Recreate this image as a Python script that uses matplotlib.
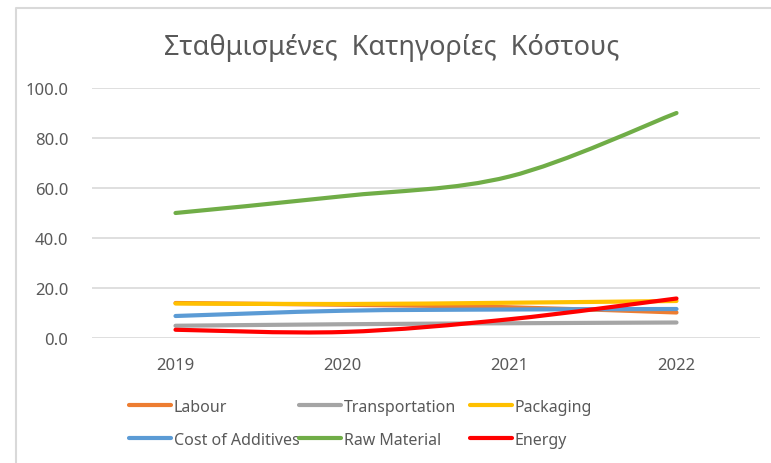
import matplotlib.pyplot as plt
from matplotlib.path import Path
from matplotlib.patches import PathPatch
from matplotlib.lines import Line2D
import numpy as np

plt.rcParams['font.family'] = ['Noto Sans', 'DejaVu Sans']

years = [2019, 2020, 2021, 2022]
labour = [14.0, 13.3, 12.3, 10.2]
transportation = [4.9, 5.5, 5.9, 6.2]
packaging = [13.8, 13.6, 14.1, 14.8]
additives = [8.8, 10.9, 11.4, 11.6]
raw_material = [50.0, 56.7, 64.6, 90.0]
energy = [3.3, 2.4, 7.5, 15.8]

series = [
    ("Labour", labour, "#ED7D31"),
    ("Transportation", transportation, "#A5A5A5"),
    ("Packaging", packaging, "#FFC000"),
    ("Cost of Additives", additives, "#5B9BD5"),
    ("Raw Material", raw_material, "#70AD47"),
    ("Energy", energy, "#FF0000"),
]
TXT = "#595959"


def smooth_path(x, y):
    # excel-like smoothed line: cubic bezier through the points
    p = np.column_stack([x, y]).astype(float)
    n = len(p)
    verts = [p[0]]
    codes = [Path.MOVETO]
    for i in range(n - 1):
        prev = p[i - 1] if i > 0 else p[i]
        nxt = p[i + 2] if i + 2 < n else p[i + 1]
        c1 = p[i] + (p[i + 1] - prev) / 6
        c2 = p[i + 1] - (nxt - p[i]) / 6
        verts += [c1, c2, p[i + 1]]
        codes += [Path.CURVE4] * 3
    return Path(verts, codes)


fig = plt.figure(figsize=(7.71, 4.64), dpi=100)
W, H = 771, 464
ax = fig.add_axes([92 / W, (H - 339) / H, (760 - 92) / W, (339 - 89) / H])

handles = {}
for name, vals, col in series:
    patch = PathPatch(smooth_path(years, vals), facecolor="none", edgecolor=col,
                      lw=3, capstyle="round", joinstyle="round", zorder=3)
    ax.add_patch(patch)
    handles[name] = Line2D([], [], color=col, lw=3, solid_capstyle="round")

ax.set_xlim(2018.5, 2022.5)
ax.set_ylim(0, 100)
ax.set_xticks(years)
ax.set_xticklabels([str(y) for y in years])
ax.set_yticks(np.arange(0, 101, 20))
ax.set_yticklabels(["%.1f" % v for v in np.arange(0, 101, 20)])
ax.tick_params(length=0, colors=TXT, labelsize=12)
ax.tick_params(axis="y", pad=17)
ax.tick_params(axis="x", pad=14)
ax.grid(axis="y", color="#D9D9D9", lw=1.2)
ax.set_axisbelow(True)
for s in ax.spines.values():
    s.set_visible(False)

fig.text(392 / W, 1 - 48 / H, "Σταθμισμένες  Κατηγορίες  Κόστους",
         ha="center", va="center", fontsize=19.5, color=TXT)

# chart border (cropped at right/bottom)
fig.add_artist(Line2D([16 / W, 16 / W, 1], [0, 1 - 9 / H, 1 - 9 / H],
                      color="#D9D9D9", lw=1.5, transform=fig.transFigure))

# legend: three fixed-width columns, two rows
columns = [["Labour", "Cost of Additives"],
           ["Transportation", "Raw Material"],
           ["Packaging", "Energy"]]
col_x = [129, 299, 470]
for names, x0 in zip(columns, col_x):
    leg = fig.legend([handles[k] for k in names], names,
                     loc="upper left", bbox_to_anchor=(x0 / W, 1 - 400 / H),
                     frameon=False, fontsize=11.5, handlelength=2.6,
                     handletextpad=0.2, borderpad=0, borderaxespad=0,
                     labelspacing=1.05, labelcolor=TXT)

fig.savefig("out.png", dpi=100)
